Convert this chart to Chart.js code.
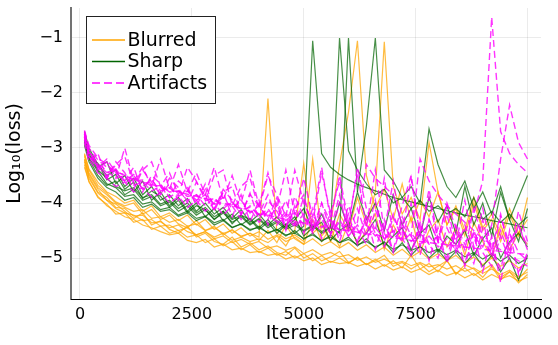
<!DOCTYPE html>
<html>
<head>
<meta charset="utf-8">
<script src="https://cdn.jsdelivr.net/npm/chart.js@4.4.0/dist/chart.umd.min.js"></script>
<style>
  html, body { margin: 0; background: #fff; }
</style>
</head>
<body>
<canvas id="chart" width="558" height="345"></canvas>
<script>
// iteracion de cada punto (igual para todas las corridas)
const iterations = [100, 200, 400, 600, 800, 1000, 1200, 1400, 1600, 1800,
  2000, 2200, 2400, 2600, 2800, 3000, 3200, 3400, 3600, 3800,
  4000, 4200, 4400, 4600, 4800, 5000, 5200, 5400, 5600, 5800,
  6000, 6200, 6400, 6600, 6800, 7000, 7200, 7400, 7600, 7800,
  8000, 8200, 8400, 8600, 8800, 9000, 9200, 9400, 9600, 9800,
  10000];

const xTicks = [0, 2500, 5000, 7500, 10000];
const yTicks = [-5, -4, -3, -2, -1];

// Blurred (log10 loss)
const blurred1 = [-3.20,-3.52,-3.80,-3.90,-4.08,-4.10,-4.24,-4.22,-4.36,-4.34,
  -4.45,-4.40,-4.52,-4.58,-4.52,-4.65,-4.60,-4.72,-4.66,-4.75,
  -4.70,-4.82,-4.78,-4.86,-4.80,-4.92,-4.85,-4.95,-4.90,-4.98,
  -4.94,-5.04,-4.98,-5.08,-5.02,-5.10,-5.06,-5.14,-5.08,-5.16,
  -5.12,-5.20,-5.14,-5.24,-5.18,-5.28,-5.20,-5.30,-5.22,-5.34,
  -5.26];
const blurred2 = [-3.10,-3.38,-3.62,-3.80,-3.88,-4.00,-3.95,-4.15,-4.05,-4.25,
  -4.18,-4.32,-4.22,-4.40,-4.30,-4.48,-4.38,-4.55,-4.45,-4.60,
  -4.52,-4.66,-4.58,-4.70,-4.62,-4.75,-4.65,-4.78,-4.70,-4.82,
  -4.72,-4.86,-4.76,-4.90,-4.80,-4.95,-4.84,-4.98,-4.88,-5.02,
  -4.92,-5.05,-4.95,-5.10,-4.98,-5.12,-5.00,-5.15,-5.05,-5.18,
  -5.10];
const blurred3 = [-3.30,-3.62,-3.88,-4.05,-4.15,-4.25,-4.30,-4.40,-4.45,-4.52,
  -4.58,-4.55,-4.68,-4.72,-4.66,-4.80,-4.75,-4.85,-4.82,-4.90,
  -4.88,-4.95,-4.92,-5.02,-4.96,-5.05,-5.00,-5.12,-5.06,-5.10,
  -5.08,-5.15,-5.10,-5.20,-5.12,-5.22,-5.16,-5.26,-5.20,-5.30,
  -5.22,-5.32,-5.26,-5.36,-5.28,-5.40,-5.30,-5.38,-5.32,-5.42,
  -5.35];
const blurred4 = [-3.15,-3.45,-3.72,-3.85,-4.00,-4.08,-4.15,-4.12,-4.28,-4.25,
  -4.35,-4.30,-4.42,-4.38,-4.50,-4.45,-4.55,-4.50,-4.60,-4.55,
  -4.62,-2.10,-4.55,-4.65,-4.58,-4.70,-3.20,-4.60,-4.40,-3.30,
  -2.35,-1.05,-3.50,-4.10,-3.75,-4.30,-3.65,-4.35,-3.95,-4.25,
  -3.80,-4.40,-4.05,-4.50,-3.90,-4.45,-4.20,-4.60,-4.10,-4.55,
  -4.30];
const blurred5 = [-3.25,-3.55,-3.82,-3.95,-4.10,-4.18,-4.22,-4.32,-4.30,-4.42,
  -4.40,-4.50,-4.45,-4.58,-4.52,-4.62,-4.55,-4.68,-4.62,-4.70,
  -4.65,-4.72,-4.60,-4.78,-4.50,-3.28,-4.55,-4.40,-4.70,-4.20,
  -4.50,-3.90,-4.40,-3.80,-1.07,-3.70,-4.20,-3.90,-4.30,-2.90,
  -3.80,-4.40,-4.10,-4.60,-4.00,-4.50,-4.30,-4.70,-4.20,-4.60,
  -3.90];
const blurred6 = [-3.35,-3.60,-3.90,-4.02,-4.20,-4.18,-4.35,-4.30,-4.48,-4.42,
  -4.55,-4.50,-4.62,-4.58,-4.72,-4.65,-4.78,-4.70,-4.85,-4.76,
  -4.90,-4.82,-4.95,-4.88,-5.00,-4.92,-5.05,-4.96,-5.08,-5.00,
  -5.10,-4.98,-5.12,-5.02,-5.15,-5.05,-5.18,-4.95,-5.20,-5.10,
  -5.25,-5.05,-5.30,-5.12,-5.20,-5.35,-5.15,-5.40,-5.25,-5.45,
  -5.30];
const blurred7 = [-3.22,-3.48,-3.75,-3.95,-4.02,-4.15,-4.28,-4.18,-4.40,-4.32,
  -4.48,-4.55,-4.42,-4.62,-4.55,-4.70,-4.75,-4.62,-4.80,-4.72,
  -4.85,-4.78,-4.90,-4.95,-4.82,-5.00,-4.92,-5.05,-4.98,-4.88,
  -5.08,-5.00,-5.12,-5.05,-4.95,-5.15,-5.08,-5.20,-5.10,-5.25,
  -5.15,-5.05,-5.28,-5.18,-5.32,-5.22,-5.12,-5.35,-5.25,-5.38,
  -5.20];
const blurred8 = [-3.12,-3.40,-3.68,-3.82,-3.98,-4.05,-4.00,-4.20,-4.12,-4.30,
  -4.22,-4.38,-4.45,-4.32,-4.50,-4.42,-4.58,-4.48,-4.62,-4.55,
  -4.68,-4.50,-4.72,-4.40,-4.65,-4.75,-4.30,-4.70,-4.45,-4.80,
  -4.35,-4.75,-4.50,-4.20,-4.85,-4.40,-4.70,-4.25,-4.90,-4.50,
  -4.30,-4.80,-4.45,-4.95,-4.35,-4.70,-5.00,-4.40,-4.85,-4.55,
  -4.75];

// Sharp
const sharp1 = [-2.85,-3.18,-3.42,-3.65,-3.72,-3.88,-3.85,-4.02,-3.98,-4.12,
  -4.08,-4.22,-4.15,-4.28,-4.24,-4.36,-4.30,-4.44,-4.38,-4.48,
  -4.45,-4.54,-4.48,-4.58,-4.55,-4.64,-4.58,-4.68,-4.62,-4.72,
  -4.66,-4.76,-4.70,-4.80,-4.72,-4.84,-4.76,-4.86,-4.80,-4.90,
  -4.84,-4.94,-4.86,-4.98,-4.90,-5.02,-4.92,-5.06,-4.95,-5.10,
  -5.00];
const sharp2 = [-2.75,-3.05,-3.35,-3.25,-3.65,-3.50,-3.80,-3.60,-3.95,-3.80,
  -4.05,-3.90,-4.15,-4.00,-4.25,-4.10,-4.32,-4.20,-4.40,-4.28,
  -4.45,-4.30,-4.50,-4.38,-4.55,-4.42,-1.05,-3.10,-3.35,-3.48,
  -3.58,-3.66,-3.72,-3.78,-3.84,-3.90,-3.94,-3.98,-4.02,-4.06,
  -4.10,-4.14,-4.18,-4.22,-4.25,-4.28,-4.32,-4.35,-4.38,-4.42,
  -4.45];
const sharp3 = [-2.90,-3.20,-3.50,-3.68,-3.60,-3.85,-3.75,-3.95,-3.88,-4.05,
  -3.98,-4.15,-4.05,-4.22,-4.12,-4.30,-4.18,-4.35,-4.25,-4.40,
  -4.30,-4.45,-4.35,-4.48,-4.40,-4.52,-4.42,-4.55,-4.45,-1.00,
  -3.05,-3.40,-3.65,-3.85,-3.75,-4.00,-3.90,-4.10,-3.95,-4.15,
  -4.05,-4.20,-4.10,-4.25,-3.90,-4.30,-4.15,-4.35,-4.20,-4.40,
  -4.25];
const sharp4 = [-2.80,-3.10,-3.40,-3.55,-3.70,-3.78,-3.72,-3.90,-3.85,-4.02,
  -3.95,-4.10,-4.00,-4.18,-4.08,-4.25,-4.15,-4.30,-4.22,-4.38,
  -4.28,-4.42,-4.32,-4.45,-4.36,-4.50,-4.40,-4.52,-4.44,-4.55,
  -1.00,-3.80,-2.60,-1.00,-3.40,-3.60,-3.90,-3.70,-4.00,-2.65,
  -3.30,-3.70,-3.90,-3.60,-4.10,-3.80,-4.20,-3.70,-4.30,-3.90,
  -3.50];
const sharp5 = [-2.95,-3.25,-3.55,-3.72,-3.80,-3.95,-3.90,-4.08,-4.02,-4.15,
  -4.12,-4.24,-4.18,-4.32,-4.25,-4.40,-4.32,-4.45,-4.38,-4.50,
  -4.42,-4.55,-4.48,-4.60,-4.50,-4.66,-4.55,-4.70,-4.58,-4.72,
  -4.62,-4.78,-4.65,-4.82,-4.70,-4.90,-4.72,-4.95,-4.78,-5.00,
  -4.85,-5.05,-4.88,-5.10,-4.92,-5.15,-4.95,-5.25,-5.00,-5.40,
  -4.95];
const sharp6 = [-2.70,-3.00,-3.30,-3.50,-3.40,-3.70,-3.55,-3.85,-3.70,-3.95,
  -3.85,-4.05,-3.92,-4.15,-4.00,-4.20,-4.08,-4.28,-4.12,-4.35,
  -4.20,-4.40,-4.25,-4.45,-4.30,-4.10,-4.50,-4.20,-4.55,-4.00,
  -4.45,-3.80,-4.30,-4.00,-4.50,-3.85,-4.40,-4.10,-4.60,-3.90,
  -4.35,-4.05,-4.55,-3.70,-4.40,-4.00,-4.60,-3.80,-4.30,-4.70,
  -4.10];
const sharp7 = [-2.88,-3.15,-3.28,-3.58,-3.48,-3.75,-3.62,-3.92,-3.78,-3.88,
  -4.08,-3.95,-4.18,-4.05,-4.12,-4.30,-4.15,-4.38,-4.22,-4.30,
  -4.48,-4.35,-4.55,-4.40,-4.25,-4.60,-4.45,-4.35,-4.68,-4.50,
  -4.40,-4.72,-4.55,-4.30,-4.78,-4.60,-4.45,-4.85,-4.55,-4.40,
  -4.90,-4.60,-4.75,-4.50,-4.95,-4.65,-4.45,-5.00,-4.70,-4.55,
  -4.80];

// Artifacts
const artifacts1 = [-2.75,-3.00,-3.22,-3.35,-3.42,-3.50,-3.56,-3.62,-3.66,-3.72,
  -3.76,-3.80,-3.84,-3.88,-3.92,-3.96,-4.00,-4.04,-4.10,-4.15,
  -4.20,-4.22,-4.26,-4.30,-4.33,-4.36,-4.40,-4.42,-4.45,-4.48,
  -4.50,-4.53,-4.56,-4.58,-4.60,-4.63,-4.65,-4.68,-4.70,-4.72,
  -4.74,-4.76,-4.78,-4.80,-4.82,-4.84,-4.86,-4.88,-4.90,-4.92,
  -4.94];
const artifacts2 = [-2.68,-2.95,-3.18,-3.30,-3.45,-3.48,-3.60,-3.58,-3.70,-3.68,
  -3.80,-3.78,-3.88,-3.85,-3.96,-3.92,-4.05,-4.00,-4.12,-4.08,
  -4.20,-3.85,-4.30,-3.95,-4.40,-3.90,-4.45,-4.00,-4.50,-3.85,
  -4.55,-4.10,-4.60,-3.95,-4.70,-4.20,-4.65,-4.00,-4.80,-4.30,
  -4.70,-4.20,-4.90,-4.40,-4.85,-4.30,-5.00,-4.50,-4.95,-4.40,
  -4.80];
const artifacts3 = [-2.80,-3.10,-3.40,-3.25,-3.55,-3.00,-3.60,-3.35,-3.70,-3.20,
  -3.75,-3.30,-3.80,-3.45,-3.85,-3.35,-3.95,-3.50,-4.00,-3.40,
  -4.05,-3.45,-4.10,-3.40,-4.20,-3.55,-4.25,-3.35,-4.30,-3.50,
  -4.35,-3.45,-4.45,-3.40,-4.50,-3.60,-4.55,-3.55,-4.60,-3.75,
  -4.65,-4.05,-4.75,-3.95,-4.80,-4.10,-4.85,-4.20,-4.90,-4.15,
  -4.70];
const artifacts4 = [-2.75,-3.15,-3.35,-3.50,-3.40,-3.65,-3.50,-3.75,-3.55,-3.85,
  -3.65,-3.95,-3.70,-4.05,-3.75,-4.15,-3.80,-4.25,-3.85,-4.35,
  -3.95,-4.40,-4.00,-4.50,-4.05,-4.55,-4.10,-4.65,-4.15,-4.70,
  -4.20,-4.75,-4.25,-4.85,-4.30,-4.90,-4.35,-4.95,-4.40,-5.05,
  -4.45,-5.10,-4.50,-5.15,-4.55,-5.25,-4.60,-5.45,-4.50,-5.30,
  -4.90];
const artifacts5 = [-2.72,-3.05,-3.30,-3.45,-3.38,-3.60,-3.48,-3.70,-3.58,-3.78,
  -3.72,-3.88,-3.78,-3.95,-3.85,-4.02,-3.90,-4.10,-3.95,-4.18,
  -4.05,-4.25,-4.10,-4.32,-4.18,-4.40,-4.22,-4.45,-4.30,-4.50,
  -4.35,-4.55,-4.40,-4.60,-4.45,-4.65,-4.50,-4.70,-4.55,-4.75,
  -4.60,-4.80,-4.65,-4.50,-4.20,-3.60,-0.62,-2.70,-3.10,-3.30,
  -3.45];
const artifacts6 = [-2.85,-3.20,-3.45,-3.55,-3.70,-3.62,-3.80,-3.72,-3.90,-3.82,
  -4.00,-3.88,-4.08,-3.95,-4.15,-4.00,-4.22,-4.05,-4.30,-4.10,
  -4.35,-4.15,-4.40,-4.20,-4.45,-4.25,-4.50,-4.30,-4.55,-4.35,
  -4.60,-4.40,-4.62,-4.45,-4.65,-4.50,-4.70,-4.55,-4.75,-4.60,
  -4.80,-4.65,-4.85,-4.70,-4.60,-4.80,-4.40,-3.20,-2.22,-2.90,
  -3.20];
const artifacts7 = [-2.78,-3.08,-3.28,-3.42,-3.55,-3.50,-3.68,-3.62,-3.78,-3.70,
  -3.90,-3.78,-3.95,-3.85,-4.05,-3.90,-4.10,-3.98,-4.20,-4.05,
  -4.25,-4.10,-4.35,-4.15,-4.40,-4.20,-4.50,-4.25,-4.55,-4.30,
  -4.60,-4.35,-3.30,-3.55,-3.70,-3.85,-4.40,-4.60,-3.20,-3.60,
  -3.85,-4.05,-4.20,-4.35,-4.50,-4.65,-4.75,-4.85,-4.95,-5.05,
  -5.15];
const artifacts8 = [-2.90,-3.25,-3.10,-3.55,-3.30,-3.15,-3.65,-3.40,-3.25,-3.70,
  -3.45,-3.85,-3.35,-3.60,-3.95,-3.50,-3.40,-4.05,-3.70,-3.55,
  -4.10,-3.50,-3.85,-4.25,-3.40,-4.00,-4.35,-3.45,-4.20,-3.60,
  -4.45,-3.35,-4.10,-4.50,-3.55,-4.60,-4.05,-3.50,-4.55,-3.90,
  -4.70,-4.00,-4.45,-4.85,-4.10,-4.65,-4.95,-4.25,-4.75,-4.40,
  -4.85];
const artifacts9 = [-2.70,-3.05,-3.35,-3.20,-3.45,-3.60,-3.35,-3.80,-3.50,-3.65,
  -3.90,-3.60,-3.75,-4.00,-3.65,-4.10,-3.80,-3.70,-4.20,-3.85,
  -4.05,-4.30,-3.90,-4.45,-4.10,-3.85,-4.50,-4.15,-4.60,-4.00,
  -4.40,-4.70,-4.20,-4.55,-4.80,-4.25,-4.65,-4.90,-4.35,-4.75,
  -5.00,-4.45,-4.80,-5.10,-4.50,-4.90,-5.15,-4.60,-5.05,-5.25,
  -4.95];
const artifacts10 = [-2.80,-3.12,-3.30,-3.55,-3.25,-3.45,-3.75,-3.40,-3.62,-3.85,
  -3.55,-3.72,-4.00,-3.62,-3.88,-4.12,-3.75,-3.95,-4.22,-3.82,
  -4.30,-3.95,-4.15,-4.45,-3.88,-4.25,-4.55,-4.00,-4.35,-4.62,
  -4.05,-4.48,-4.75,-4.12,-4.55,-4.85,-4.25,-4.60,-4.95,-4.30,
  -4.70,-5.00,-4.40,-4.75,-5.10,-4.45,-4.85,-5.20,-4.55,-4.90,
  -5.05];

const groups = [
  { label: 'Blurred', color: 'rgb(255,165,0)', line: 'rgba(255,165,0,0.75)', dash: [],
    runs: [blurred1, blurred2, blurred3, blurred4, blurred5, blurred6, blurred7, blurred8] },
  { label: 'Sharp', color: 'rgb(0,100,0)', line: 'rgba(0,100,0,0.72)', dash: [],
    runs: [sharp1, sharp2, sharp3, sharp4, sharp5, sharp6, sharp7] },
  { label: 'Artifacts', color: 'rgb(255,0,255)', line: 'rgba(255,0,255,0.8)', dash: [7, 4],
    runs: [artifacts1, artifacts2, artifacts3, artifacts4, artifacts5, artifacts6, artifacts7,
      artifacts8, artifacts9, artifacts10] }
];

const datasets = [];
groups.forEach(g => {
  g.runs.forEach(run => {
    datasets.push({
      label: g.label,
      data: iterations.map((it, i) => ({ x: it, y: run[i] })),
      borderColor: g.line,
      borderWidth: g.dash.length ? 1.4 : 1.2,
      borderDash: g.dash,
      pointRadius: 0,
      tension: 0,
      fill: false
    });
  });
});
// en Chart.js el primer dataset queda arriba, asi que invierto
datasets.reverse();

const fmt = v => (v < 0 ? '\u2212' + Math.abs(v) : String(v));

// leyenda con caja dentro del area
const legendBox = {
  id: 'legendBox',
  afterDatasetsDraw(chart) {
    const ctx = chart.ctx;
    ctx.save();
    ctx.fillStyle = '#fff';
    ctx.fillRect(86.5, 16.5, 129, 87);
    ctx.strokeStyle = '#222';
    ctx.lineWidth = 1;
    ctx.strokeRect(86.5, 16.5, 129, 87);
    ctx.font = '19px "DejaVu Sans"';
    ctx.textBaseline = 'middle';
    groups.forEach((g, i) => {
      const y = 40 + i * 21.5;
      ctx.strokeStyle = g.color;
      ctx.lineWidth = 1.5;
      ctx.setLineDash(g.dash.length ? [8, 4] : []);
      ctx.beginPath();
      ctx.moveTo(92, y);
      ctx.lineTo(125, y);
      ctx.stroke();
      ctx.setLineDash([]);
      ctx.fillStyle = '#000';
      ctx.fillText(g.label, 127.5, y + 1);
    });
    ctx.restore();
  }
};

new Chart(document.getElementById('chart'), {
  type: 'line',
  data: { datasets: datasets },
  options: {
    responsive: false,
    animation: false,
    events: [],
    layout: { padding: { top: 8, right: 17, left: 0, bottom: 0 } },
    plugins: { legend: { display: false }, tooltip: { enabled: false } },
    scales: {
      x: {
        type: 'linear',
        min: -201,
        max: 10302,
        afterBuildTicks: s => { s.ticks = xTicks.map(v => ({ value: v })); },
        afterFit: s => { s.height = 46; s.paddingLeft = 0; s.paddingRight = 0; },
        ticks: { color: '#000', padding: 6, font: { family: 'DejaVu Sans', size: 16 }, maxRotation: 0,
          callback: v => String(v) },
        grid: { color: 'rgba(0,0,0,0.08)', drawTicks: false },
        border: { color: '#000', width: 1 },
        title: { display: true, text: 'Iteration', color: '#000', padding: { top: 0, bottom: 0 },
          font: { family: 'DejaVu Sans', size: 19 } }
      },
      y: {
        min: -5.745,
        max: -0.455,
        afterBuildTicks: s => { s.ticks = yTicks.map(v => ({ value: v })); },
        afterFit: s => { s.width = 71; s.paddingTop = 0; s.paddingBottom = 0; },
        ticks: { color: '#000', padding: 8, font: { family: 'DejaVu Sans', size: 16 }, callback: fmt },
        grid: { color: 'rgba(0,0,0,0.08)', drawTicks: false },
        border: { color: 'rgba(0,0,0,0.55)', width: 2 },
        title: { display: true, text: 'Log\u2081\u2080(loss)', color: '#000', padding: { top: 4, bottom: 0 },
          font: { family: 'DejaVu Sans', size: 19 } }
      }
    }
  },
  plugins: [legendBox]
});
</script>
</body>
</html>
